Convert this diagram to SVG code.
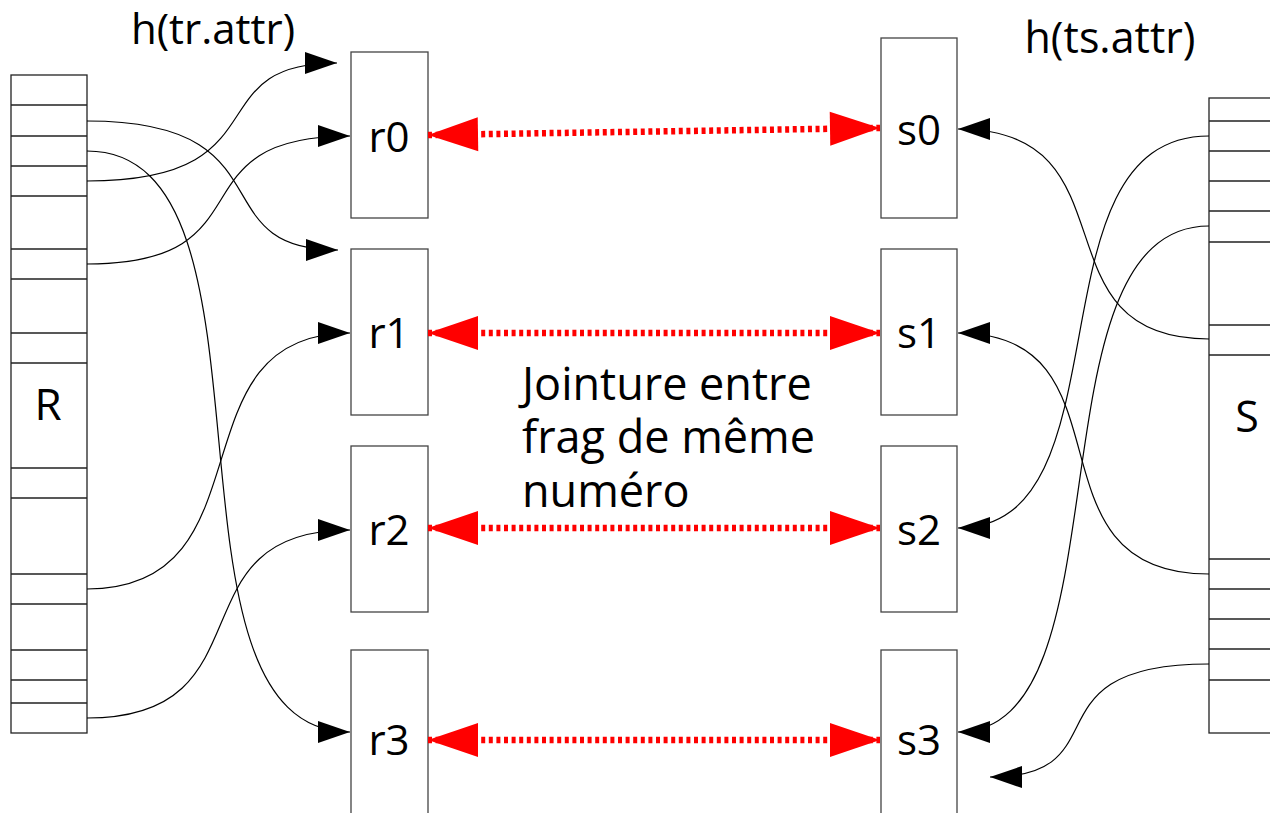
<svg xmlns="http://www.w3.org/2000/svg" width="1270" height="813" viewBox="0 0 1270 813">
  <style>
    .tbl { fill: #fff; stroke: #222; stroke-width: 1.3; }
    .row { stroke: #222; stroke-width: 1.3; }
    .box { fill: #fff; stroke: #444; stroke-width: 1.3; }
    .lbl { font-family: "Open Sans", "DejaVu Sans", sans-serif; fill: #000; }
    .curve { fill: none; stroke: #000; stroke-width: 1.2; marker-end: url(#arrow); }
    .join { fill: none; stroke: #ff0000; stroke-width: 6.5; stroke-dasharray: 4 3.6;
            marker-start: url(#redArrow); marker-end: url(#redArrow); }
  </style>
  <defs>
    <marker id="arrow" markerUnits="userSpaceOnUse" markerWidth="32" markerHeight="22"
            refX="32" refY="11" orient="auto" overflow="visible">
      <path d="M0,0 L32,11 L0,22 z" fill="#000"/>
    </marker>
    <marker id="redArrow" markerUnits="userSpaceOnUse" markerWidth="50" markerHeight="34"
            refX="50" refY="17" orient="auto-start-reverse" overflow="visible">
      <path d="M0,0 L50,17 L0,34 z" fill="#ff0000"/>
    </marker>
  </defs>

  <rect width="1270" height="813" fill="#fff"/>

  <!-- relation R -->
  <g id="table-R">
    <rect class="tbl" x="11" y="75" width="76" height="658"/>
    <path class="row" d="M11,105H87 M11,136H87 M11,166H87 M11,196H87 M11,249H87 M11,279H87
      M11,333H87 M11,363H87 M11,468H87 M11,498H87 M11,574H87 M11,604H87 M11,650H87
      M11,680H87 M11,703H87"/>
    <text class="lbl" x="48" y="420" font-size="44" text-anchor="middle">R</text>
  </g>

  <!-- relation S -->
  <g id="table-S">
    <rect class="tbl" x="1209" y="98" width="80" height="635"/>
    <path class="row" d="M1209,121H1270 M1209,151H1270 M1209,181H1270 M1209,211H1270
      M1209,242H1270 M1209,325H1270 M1209,355H1270 M1209,559H1270 M1209,589H1270
      M1209,619H1270 M1209,649H1270 M1209,680H1270"/>
    <text class="lbl" x="1247" y="432" font-size="43" text-anchor="middle">S</text>
  </g>

  <!-- fragments of R -->
  <g id="r0"><rect class="box" x="351" y="52" width="77" height="166"/>
    <text class="lbl" x="389" y="152" font-size="42" text-anchor="middle">r0</text></g>
  <g id="r1"><rect class="box" x="351" y="249" width="77" height="166"/>
    <text class="lbl" x="389" y="348" font-size="42" text-anchor="middle">r1</text></g>
  <g id="r2"><rect class="box" x="351" y="446" width="77" height="166"/>
    <text class="lbl" x="389" y="545" font-size="42" text-anchor="middle">r2</text></g>
  <g id="r3"><rect class="box" x="351" y="650" width="77" height="175"/>
    <text class="lbl" x="389" y="755" font-size="42" text-anchor="middle">r3</text></g>

  <!-- fragments of S -->
  <g id="s0"><rect class="box" x="881" y="38" width="76" height="180"/>
    <text class="lbl" x="919" y="145" font-size="42" text-anchor="middle">s0</text></g>
  <g id="s1"><rect class="box" x="881" y="249" width="76" height="166"/>
    <text class="lbl" x="919" y="348" font-size="42" text-anchor="middle">s1</text></g>
  <g id="s2"><rect class="box" x="881" y="446" width="76" height="166"/>
    <text class="lbl" x="919" y="545" font-size="42" text-anchor="middle">s2</text></g>
  <g id="s3"><rect class="box" x="881" y="650" width="76" height="175"/>
    <text class="lbl" x="919" y="755" font-size="42" text-anchor="middle">s3</text></g>

  <!-- captions -->
  <g id="hash-r"><text class="lbl" x="213" y="44" font-size="42" text-anchor="middle">h(tr.attr)</text></g>
  <g id="hash-s"><text class="lbl" x="1110" y="53" font-size="43" text-anchor="middle">h(ts.attr)</text></g>
  <g id="note">
    <text class="lbl" x="522" font-size="45">
      <tspan x="522" y="400">Jointure entre</tspan>
      <tspan x="522" y="453">frag de même</tspan>
      <tspan x="522" y="507">numéro</tspan>
    </text>
  </g>

  <!-- hashing connectors and joins -->
  <g id="connectors">
    <path class="curve" d="M87,121 C292,121 198,250 338,250"/>
    <path class="curve" d="M87,151 C296,151 142,732 350,732"/>
    <path class="curve" d="M87,181 C286,181 194,63 337,63"/>
    <path class="curve" d="M87,264 C274,264 169,136 350,136"/>
    <path class="curve" d="M87,589 C274,589 169,333 350,333"/>
    <path class="curve" d="M87,718 C274,718 169,530 350,530"/>

    <path class="curve" d="M1209,136 C1025,136 1132,528 958,528"/>
    <path class="curve" d="M1209,226 C1025,226 1132,732 958,732"/>
    <path class="curve" d="M1209,339 C1030,339 1140,129 958,129"/>
    <path class="curve" d="M1209,574 C1019,574 1139,333 958,333"/>
    <path class="curve" d="M1209,664 C1023,664 1124,777 990,777"/>

    <path class="join" d="M428,135 L880,128"/>
    <path class="join" d="M428,333 L880,333"/>
    <path class="join" d="M428,528 L880,528"/>
    <path class="join" d="M428,740 L880,740"/>
  </g>
</svg>
